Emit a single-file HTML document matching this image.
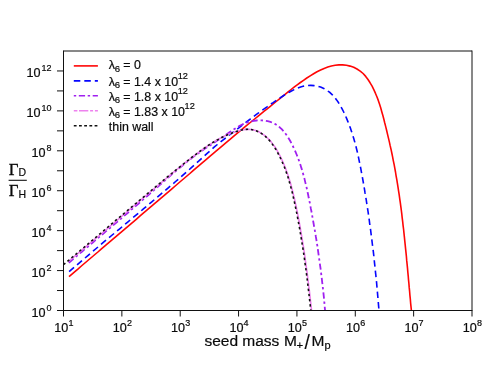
<!DOCTYPE html>
<html><head><meta charset="utf-8"><title>plot</title>
<style>
html,body{margin:0;padding:0;background:#fff;}
svg{display:block}
text{font-family:"Liberation Sans",sans-serif;fill:#0a0a0a;stroke:#0a0a0a;stroke-width:0.2px;}
</style></head><body>
<svg width="498" height="374" viewBox="0 0 498 374">
<rect width="498" height="374" fill="#fff"/>
<g fill="none" stroke-linejoin="round">
<path d="M69.0,276.6 L72.0,274.1 L74.9,271.6 L77.9,269.1 L80.8,266.5 L83.7,264.0 L86.7,261.5 L89.6,259.0 L92.6,256.5 L95.5,254.0 L98.5,251.5 L101.4,248.9 L104.4,246.4 L107.3,243.9 L110.3,241.4 L113.2,238.9 L116.2,236.4 L119.1,233.9 L122.1,231.3 L125.0,228.8 L128.0,226.3 L130.9,223.8 L133.9,221.3 L136.8,218.8 L139.8,216.2 L142.7,213.7 L145.7,211.2 L148.6,208.7 L151.6,206.2 L154.5,203.7 L157.5,201.1 L160.4,198.6 L163.4,196.1 L166.3,193.6 L169.3,191.1 L172.2,188.6 L175.2,186.0 L178.1,183.5 L181.0,181.0 L184.0,178.5 L186.9,176.0 L189.9,173.5 L192.8,170.9 L195.7,168.4 L198.7,165.9 L201.6,163.4 L204.6,160.9 L207.5,158.4 L210.4,155.8 L213.4,153.3 L216.3,150.8 L219.3,148.3 L222.3,145.8 L225.2,143.3 L228.2,140.8 L231.2,138.3 L234.1,135.8 L237.1,133.4 L240.1,130.9 L243.1,128.4 L246.1,125.9 L249.1,123.5 L252.1,121.0 L255.2,118.5 L258.2,116.1 L261.2,113.6 L264.2,111.2 L267.2,108.8 L270.3,106.3 L273.2,103.9 L276.2,101.5 L279.2,99.1 L282.2,96.7 L285.1,94.3 L288.1,91.9 L291.1,89.5 L294.1,87.2 L297.2,84.8 L300.4,82.5 L303.5,80.3 L306.8,78.0 L310.2,75.9 L313.6,73.8 L317.0,71.8 L320.6,70.0 L324.1,68.4 L327.8,67.1 L331.4,66.0 L335.1,65.3 L338.9,64.9 L342.6,64.9 L346.4,65.3 L350.1,66.1 L353.7,67.3 L357.0,69.0 L360.2,71.1 L363.1,73.5 L365.7,76.4 L368.0,79.5 L370.1,82.8 L372.1,86.2 L373.8,89.7 L375.4,93.2 L376.9,96.8 L378.3,100.4 L379.5,104.1 L380.7,107.8 L381.7,111.5 L382.8,115.3 L383.8,119.0 L384.7,122.8 L385.7,126.6 L386.6,130.3 L387.5,134.1 L388.4,137.9 L389.3,141.6 L390.1,145.4 L391.0,149.2 L391.8,153.0 L392.6,156.8 L393.3,160.6 L394.1,164.4 L394.8,168.2 L395.5,172.0 L396.1,175.8 L396.8,179.6 L397.4,183.4 L398.0,187.2 L398.6,191.1 L399.2,194.9 L399.7,198.7 L400.3,202.6 L400.8,206.4 L401.3,210.2 L401.8,214.1 L402.2,217.9 L402.7,221.8 L403.1,225.6 L403.6,229.5 L404.0,233.3 L404.4,237.2 L404.8,241.1 L405.2,244.9 L405.6,248.8 L406.0,252.6 L406.4,256.5 L406.7,260.4 L407.1,264.2 L407.5,268.1 L407.8,271.9 L408.2,275.8 L408.5,279.6 L408.9,283.5 L409.2,287.4 L409.6,291.2 L409.9,295.1 L410.3,298.9 L410.6,302.8 L411.0,306.6 L411.4,310.5" stroke="#ff0505" stroke-width="1.6"/>
<path d="M69.1,271.7 L71.7,269.4 L74.4,267.1 L77.0,264.9 L79.7,262.6 L82.3,260.3 L85.0,258.0 L87.6,255.8 L90.3,253.5 L92.9,251.3 L95.6,249.0 L98.3,246.7 L100.9,244.5 L103.6,242.2 L106.3,240.0 L108.9,237.8 L111.6,235.5 L114.3,233.3 L117.0,231.0 L119.7,228.8 L122.3,226.6 L125.0,224.3 L127.7,222.1 L130.4,219.8 L133.0,217.6 L135.7,215.4 L138.4,213.1 L141.1,210.9 L143.7,208.6 L146.4,206.4 L149.1,204.1 L151.8,201.9 L154.4,199.6 L157.1,197.4 L159.7,195.1 L162.4,192.8 L165.1,190.6 L167.7,188.3 L170.3,186.0 L173.0,183.8 L175.6,181.5 L178.3,179.2 L180.9,176.9 L183.5,174.6 L186.1,172.3 L188.8,170.0 L191.4,167.7 L194.0,165.3 L196.6,163.0 L199.2,160.7 L201.7,158.3 L204.3,156.0 L206.9,153.6 L209.5,151.3 L212.1,149.0 L214.7,146.7 L217.4,144.5 L220.1,142.3 L222.9,140.1 L225.6,138.0 L228.4,135.8 L231.2,133.7 L234.0,131.6 L236.7,129.5 L239.5,127.3 L242.2,125.2 L245.0,123.1 L247.8,121.0 L250.5,118.9 L253.3,116.8 L256.1,114.7 L258.9,112.7 L261.7,110.6 L264.5,108.6 L267.4,106.6 L270.2,104.5 L273.1,102.6 L276.0,100.6 L279.0,98.7 L281.9,96.7 L284.9,94.8 L288.0,93.0 L291.0,91.2 L294.1,89.6 L297.3,88.1 L300.6,87.0 L303.9,86.1 L307.3,85.6 L310.7,85.4 L314.1,85.6 L317.4,86.1 L320.6,87.1 L323.8,88.5 L326.7,90.2 L329.5,92.2 L332.1,94.6 L334.5,97.1 L336.6,99.9 L338.6,102.8 L340.4,105.8 L342.1,108.9 L343.7,112.0 L345.2,115.2 L346.6,118.4 L347.9,121.6 L349.2,124.9 L350.4,128.1 L351.5,131.4 L352.6,134.7 L353.6,138.1 L354.6,141.4 L355.5,144.8 L356.4,148.2 L357.2,151.5 L358.0,155.0 L358.7,158.4 L359.4,161.8 L360.1,165.2 L360.8,168.7 L361.4,172.1 L362.1,175.5 L362.7,179.0 L363.3,182.4 L363.9,185.9 L364.5,189.3 L365.0,192.7 L365.6,196.2 L366.2,199.6 L366.7,203.1 L367.2,206.5 L367.8,210.0 L368.3,213.4 L368.8,216.9 L369.3,220.3 L369.7,223.8 L370.2,227.2 L370.7,230.7 L371.1,234.1 L371.6,237.6 L372.0,241.1 L372.4,244.5 L372.9,248.0 L373.3,251.4 L373.7,254.9 L374.1,258.4 L374.4,261.8 L374.8,265.3 L375.2,268.8 L375.5,272.3 L375.9,275.7 L376.2,279.2 L376.6,282.7 L376.9,286.2 L377.2,289.6 L377.5,293.1 L377.8,296.6 L378.1,300.1 L378.4,303.6 L378.7,307.1 L379.0,310.6" stroke="#0505ff" stroke-width="1.6" stroke-dasharray="6.5 4"/>
<path d="M68.8,262.8 L70.9,261.0 L73.1,259.1 L75.3,257.2 L77.5,255.4 L79.7,253.5 L81.9,251.7 L84.0,249.9 L86.2,248.0 L88.4,246.2 L90.6,244.3 L92.8,242.5 L94.9,240.6 L97.1,238.8 L99.3,236.9 L101.5,235.1 L103.7,233.3 L105.8,231.4 L108.0,229.6 L110.2,227.7 L112.4,225.9 L114.6,224.0 L116.7,222.2 L118.9,220.4 L121.1,218.5 L123.2,216.7 L125.4,214.8 L127.6,213.0 L129.8,211.1 L131.9,209.2 L134.1,207.4 L136.2,205.5 L138.4,203.7 L140.6,201.8 L142.7,199.9 L144.9,198.1 L147.0,196.2 L149.2,194.3 L151.3,192.4 L153.5,190.5 L155.6,188.6 L157.8,186.8 L159.9,184.9 L162.1,183.0 L164.2,181.1 L166.4,179.2 L168.5,177.3 L170.7,175.4 L172.8,173.5 L175.0,171.7 L177.2,169.8 L179.4,168.0 L181.6,166.2 L183.8,164.4 L186.0,162.6 L188.2,160.8 L190.5,159.1 L192.7,157.3 L195.0,155.6 L197.3,154.0 L199.6,152.3 L202.0,150.7 L204.3,149.1 L206.7,147.6 L209.1,146.0 L211.5,144.5 L213.9,142.9 L216.2,141.3 L218.6,139.8 L221.0,138.2 L223.4,136.6 L225.8,134.9 L228.1,133.2 L230.5,131.6 L232.9,129.9 L235.3,128.4 L237.7,126.9 L240.2,125.5 L242.8,124.2 L245.4,123.1 L248.1,122.2 L250.9,121.4 L253.7,120.9 L256.5,120.5 L259.4,120.4 L262.2,120.4 L265.0,120.7 L267.7,121.2 L270.4,121.9 L272.9,122.9 L275.3,124.1 L277.6,125.6 L279.7,127.3 L281.7,129.2 L283.6,131.2 L285.4,133.5 L287.1,135.8 L288.6,138.3 L290.1,140.8 L291.5,143.4 L292.8,146.0 L294.1,148.7 L295.3,151.3 L296.4,154.0 L297.5,156.6 L298.5,159.3 L299.4,162.0 L300.4,164.7 L301.2,167.4 L302.1,170.2 L302.9,172.9 L303.6,175.6 L304.4,178.4 L305.0,181.1 L305.7,183.9 L306.4,186.6 L307.0,189.4 L307.6,192.2 L308.2,195.0 L308.7,197.8 L309.3,200.5 L309.9,203.3 L310.4,206.1 L310.9,208.9 L311.5,211.7 L312.0,214.5 L312.5,217.3 L313.0,220.1 L313.5,223.0 L314.0,225.8 L314.5,228.6 L315.0,231.4 L315.5,234.2 L315.9,237.0 L316.4,239.9 L316.8,242.7 L317.3,245.5 L317.7,248.3 L318.1,251.2 L318.5,254.0 L318.9,256.8 L319.3,259.7 L319.7,262.5 L320.1,265.3 L320.5,268.2 L320.9,271.0 L321.2,273.8 L321.6,276.7 L321.9,279.5 L322.2,282.3 L322.6,285.2 L322.9,288.0 L323.2,290.8 L323.5,293.7 L323.8,296.5 L324.1,299.3 L324.3,302.2 L324.6,305.0 L324.8,307.8 L325.1,310.7" stroke="#a020f0" stroke-width="1.8" stroke-dasharray="6.3 2.9 2.4 2.9"/>
<path d="M68.0,261.7 L70.0,260.0 L72.1,258.3 L74.2,256.6 L76.2,254.9 L78.3,253.1 L80.3,251.4 L82.4,249.7 L84.5,247.9 L86.5,246.2 L88.6,244.5 L90.6,242.7 L92.7,241.0 L94.7,239.2 L96.8,237.5 L98.9,235.8 L100.9,234.0 L103.0,232.3 L105.0,230.5 L107.1,228.8 L109.2,227.0 L111.2,225.3 L113.3,223.5 L115.3,221.8 L117.4,220.0 L119.4,218.3 L121.5,216.5 L123.5,214.7 L125.6,213.0 L127.7,211.2 L129.7,209.5 L131.8,207.7 L133.8,206.0 L135.9,204.2 L137.9,202.5 L140.0,200.7 L142.0,199.0 L144.1,197.2 L146.1,195.5 L148.2,193.7 L150.2,192.0 L152.3,190.3 L154.3,188.5 L156.4,186.8 L158.4,185.0 L160.4,183.3 L162.5,181.6 L164.6,179.8 L166.6,178.1 L168.7,176.4 L170.7,174.7 L172.8,172.9 L174.9,171.2 L177.0,169.5 L179.0,167.8 L181.1,166.1 L183.2,164.4 L185.3,162.7 L187.4,161.0 L189.6,159.4 L191.7,157.7 L193.8,156.0 L196.0,154.4 L198.2,152.7 L200.3,151.1 L202.5,149.5 L204.7,147.9 L207.0,146.4 L209.2,144.8 L211.5,143.4 L213.8,141.9 L216.1,140.5 L218.4,139.2 L220.8,137.9 L223.2,136.7 L225.6,135.5 L228.0,134.5 L230.5,133.5 L233.0,132.5 L235.5,131.7 L238.1,131.0 L240.7,130.3 L243.4,129.8 L246.0,129.4 L248.6,129.3 L251.2,129.5 L253.8,129.9 L256.3,130.7 L258.8,131.8 L261.1,133.1 L263.4,134.6 L265.5,136.2 L267.5,138.0 L269.4,139.9 L271.2,141.9 L272.8,144.1 L274.4,146.3 L275.9,148.5 L277.3,150.9 L278.6,153.3 L279.9,155.7 L281.1,158.1 L282.3,160.6 L283.3,163.0 L284.4,165.5 L285.4,168.0 L286.3,170.6 L287.2,173.1 L288.1,175.6 L288.9,178.2 L289.7,180.7 L290.5,183.3 L291.2,185.9 L291.9,188.5 L292.6,191.1 L293.2,193.7 L293.8,196.3 L294.5,199.0 L295.0,201.6 L295.6,204.2 L296.2,206.8 L296.7,209.5 L297.3,212.1 L297.8,214.8 L298.3,217.4 L298.8,220.0 L299.3,222.7 L299.8,225.3 L300.3,228.0 L300.7,230.7 L301.2,233.3 L301.6,236.0 L302.1,238.6 L302.5,241.3 L302.9,244.0 L303.4,246.6 L303.8,249.3 L304.2,252.0 L304.6,254.6 L305.0,257.3 L305.3,260.0 L305.7,262.6 L306.1,265.3 L306.4,268.0 L306.8,270.7 L307.2,273.3 L307.5,276.0 L307.8,278.7 L308.2,281.4 L308.5,284.0 L308.8,286.7 L309.2,289.4 L309.5,292.1 L309.8,294.7 L310.1,297.4 L310.4,300.1 L310.7,302.8 L311.0,305.4 L311.3,308.1 L311.6,310.8" stroke="#ee82ee" stroke-width="1.6"/>
<path d="M63.5,264.7 L65.6,263.0 L67.7,261.2 L69.7,259.5 L71.8,257.7 L73.9,256.0 L76.0,254.2 L78.0,252.4 L80.1,250.7 L82.2,248.9 L84.3,247.2 L86.3,245.4 L88.4,243.6 L90.5,241.9 L92.6,240.1 L94.6,238.3 L96.7,236.6 L98.8,234.8 L100.9,233.1 L103.0,231.3 L105.0,229.5 L107.1,227.8 L109.2,226.0 L111.3,224.2 L113.4,222.5 L115.4,220.7 L117.5,218.9 L119.6,217.2 L121.7,215.4 L123.8,213.6 L125.9,211.9 L127.9,210.1 L130.0,208.4 L132.1,206.6 L134.2,204.8 L136.3,203.1 L138.3,201.3 L140.4,199.6 L142.5,197.8 L144.6,196.1 L146.7,194.3 L148.8,192.6 L150.8,190.8 L152.9,189.1 L155.0,187.3 L157.1,185.6 L159.2,183.8 L161.3,182.1 L163.3,180.4 L165.4,178.6 L167.5,176.9 L169.6,175.2 L171.7,173.5 L173.8,171.7 L176.0,170.0 L178.1,168.3 L180.2,166.6 L182.3,164.9 L184.5,163.2 L186.6,161.5 L188.8,159.8 L190.9,158.1 L193.1,156.4 L195.3,154.8 L197.5,153.1 L199.7,151.5 L201.9,149.9 L204.1,148.3 L206.3,146.7 L208.6,145.2 L210.9,143.7 L213.2,142.3 L215.6,140.9 L217.9,139.6 L220.3,138.3 L222.7,137.0 L225.1,135.8 L227.6,134.7 L230.1,133.7 L232.7,132.7 L235.2,131.8 L237.8,131.0 L240.5,130.2 L243.1,129.7 L245.8,129.4 L248.4,129.3 L251.0,129.5 L253.6,130.0 L256.2,130.8 L258.6,131.9 L261.0,133.2 L263.2,134.7 L265.3,136.3 L267.2,138.1 L269.1,140.1 L270.9,142.2 L272.5,144.4 L274.1,146.7 L275.6,149.0 L277.0,151.4 L278.3,153.9 L279.6,156.3 L280.8,158.8 L281.9,161.3 L283.0,163.8 L284.1,166.3 L285.1,168.9 L286.0,171.4 L286.9,174.0 L287.8,176.6 L288.6,179.2 L289.3,181.7 L290.1,184.4 L290.8,187.0 L291.5,189.6 L292.2,192.2 L292.8,194.9 L293.4,197.5 L294.0,200.1 L294.6,202.8 L295.1,205.5 L295.7,208.1 L296.2,210.8 L296.8,213.4 L297.3,216.1 L297.8,218.8 L298.3,221.5 L298.8,224.1 L299.3,226.8 L299.8,229.5 L300.2,232.2 L300.7,234.9 L301.1,237.6 L301.6,240.3 L302.0,242.9 L302.4,245.6 L302.9,248.3 L303.3,251.0 L303.7,253.7 L304.1,256.4 L304.5,259.1 L304.8,261.8 L305.2,264.5 L305.6,267.2 L306.0,269.9 L306.3,272.6 L306.7,275.3 L307.0,278.1 L307.4,280.8 L307.7,283.5 L308.0,286.2 L308.3,288.9 L308.7,291.6 L309.0,294.3 L309.3,297.0 L309.6,299.7 L309.9,302.4 L310.2,305.1 L310.5,307.8 L310.8,310.5" stroke="#111" stroke-width="1.6" stroke-dasharray="2.4 2.8"/>
</g>
<g stroke="#111" stroke-width="1" fill="none">
<line x1="63.5" y1="51.0" x2="472.0" y2="51.0"/>
<line x1="472.0" y1="50.5" x2="472.0" y2="310.5"/>
</g>
<g stroke="#111" stroke-width="1" fill="none">
<line x1="63.5" y1="50.5" x2="63.5" y2="311.0"/>
<line x1="63.0" y1="310.5" x2="472.5" y2="310.5"/>
<line x1="63.50" y1="310.5" x2="63.50" y2="316.5"/><line x1="121.86" y1="310.5" x2="121.86" y2="316.5"/><line x1="180.21" y1="310.5" x2="180.21" y2="316.5"/><line x1="238.57" y1="310.5" x2="238.57" y2="316.5"/><line x1="296.93" y1="310.5" x2="296.93" y2="316.5"/><line x1="355.29" y1="310.5" x2="355.29" y2="316.5"/><line x1="413.64" y1="310.5" x2="413.64" y2="316.5"/><line x1="472.00" y1="310.5" x2="472.00" y2="316.5"/><line x1="57.0" y1="310.50" x2="63.5" y2="310.50"/><line x1="57.0" y1="290.54" x2="63.5" y2="290.54"/><line x1="57.0" y1="270.58" x2="63.5" y2="270.58"/><line x1="57.0" y1="250.62" x2="63.5" y2="250.62"/><line x1="57.0" y1="230.65" x2="63.5" y2="230.65"/><line x1="57.0" y1="210.69" x2="63.5" y2="210.69"/><line x1="57.0" y1="190.73" x2="63.5" y2="190.73"/><line x1="57.0" y1="170.77" x2="63.5" y2="170.77"/><line x1="57.0" y1="150.81" x2="63.5" y2="150.81"/><line x1="57.0" y1="130.85" x2="63.5" y2="130.85"/><line x1="57.0" y1="110.88" x2="63.5" y2="110.88"/><line x1="57.0" y1="90.92" x2="63.5" y2="90.92"/><line x1="57.0" y1="70.96" x2="63.5" y2="70.96"/>
</g>
<g font-size="12.6"><text x="54.3" y="332.0">10<tspan dy="-6.3" dx="0.2" font-size="9">1</tspan></text><text x="112.7" y="332.0">10<tspan dy="-6.3" dx="0.2" font-size="9">2</tspan></text><text x="171.0" y="332.0">10<tspan dy="-6.3" dx="0.2" font-size="9">3</tspan></text><text x="229.4" y="332.0">10<tspan dy="-6.3" dx="0.2" font-size="9">4</tspan></text><text x="287.7" y="332.0">10<tspan dy="-6.3" dx="0.2" font-size="9">5</tspan></text><text x="346.1" y="332.0">10<tspan dy="-6.3" dx="0.2" font-size="9">6</tspan></text><text x="404.4" y="332.0">10<tspan dy="-6.3" dx="0.2" font-size="9">7</tspan></text><text x="462.8" y="332.0">10<tspan dy="-6.3" dx="0.2" font-size="9">8</tspan></text><text x="31.6" y="317.00">10<tspan dy="-6.5" dx="0.8" font-size="9">0</tspan></text><text x="31.6" y="277.08">10<tspan dy="-6.5" dx="0.8" font-size="9">2</tspan></text><text x="31.6" y="237.15">10<tspan dy="-6.5" dx="0.8" font-size="9">4</tspan></text><text x="31.6" y="197.23">10<tspan dy="-6.5" dx="0.8" font-size="9">6</tspan></text><text x="31.6" y="157.31">10<tspan dy="-6.5" dx="0.8" font-size="9">8</tspan></text><text x="26.6" y="117.38">10<tspan dy="-6.5" dx="0.8" font-size="9">10</tspan></text><text x="26.6" y="77.46">10<tspan dy="-6.5" dx="0.8" font-size="9">12</tspan></text></g>
<g fill="none">
<line x1="73.8" x2="97.9" y1="65.9" y2="65.9" stroke="#ff0505" stroke-width="1.6"/>
<line x1="73.8" x2="97.9" y1="80.9" y2="80.9" stroke="#0505ff" stroke-width="1.6" stroke-dasharray="6.5 4"/>
<line x1="73.8" x2="97.9" y1="95.8" y2="95.8" stroke="#a020f0" stroke-width="1.5" stroke-dasharray="2.4 2.6 6.3 2.6"/>
<line x1="73.8" x2="97.9" y1="110.8" y2="110.8" stroke="#ee82ee" stroke-width="1.4" stroke-dasharray="3.6 1.6 9.3 1.8 3 1.8 3 1.8"/>
<line x1="73.8" x2="97.9" y1="125.7" y2="125.7" stroke="#111" stroke-width="1.5" stroke-dasharray="2.8 2.4"/>
</g>
<g font-size="12.4">
<text x="108.8" y="69.2">λ<tspan dy="2.4" dx="-0.2" font-size="9.6">6</tspan><tspan dy="-2.4" dx="-0.3"> = 0</tspan></text>
<text x="108.8" y="85.7">λ<tspan dy="2.4" dx="-0.2" font-size="9.6">6</tspan><tspan dy="-2.4" dx="-0.3"> = 1.4 x 10</tspan><tspan dy="-6.3" dx="-0.4" font-size="9.2">12</tspan></text>
<text x="108.8" y="100.6">λ<tspan dy="2.4" dx="-0.2" font-size="9.6">6</tspan><tspan dy="-2.4" dx="-0.3"> = 1.8 x 10</tspan><tspan dy="-6.3" dx="-0.4" font-size="9.2">12</tspan></text>
<text x="108.8" y="115.6">λ<tspan dy="2.4" dx="-0.2" font-size="9.6">6</tspan><tspan dy="-2.4" dx="-0.3"> = 1.83 x 10</tspan><tspan dy="-6.3" dx="-0.4" font-size="9.2">12</tspan></text>
<text x="108.8" y="130.5">thin wall</text>
</g>
<g font-size="15.5"><text x="204.4" y="346.2">seed mass</text><text x="284" y="346.2">M</text><text x="296.6" y="348.5" font-size="11.3">+</text><text transform="translate(304.5,349.3) scale(1.25,1.33)" style="stroke-width:0.1px">/</text><text x="311.5" y="346.2">M</text><text x="324.6" y="349" font-size="11">p</text></g>
<g>
<text x="8.8" y="174.8" font-size="16.8" style="font-family:'Liberation Serif',serif;stroke-width:0.35px">Γ</text>
<text x="18.6" y="175.9" font-size="10.5">D</text>
<line x1="8.6" x2="26.8" y1="180.3" y2="180.3" stroke="#111" stroke-width="1.1"/>
<text x="8.8" y="196.3" font-size="16.8" style="font-family:'Liberation Serif',serif;stroke-width:0.35px">Γ</text>
<text x="18.6" y="197.8" font-size="10.5">H</text>
</g>
</svg>
</body></html>
